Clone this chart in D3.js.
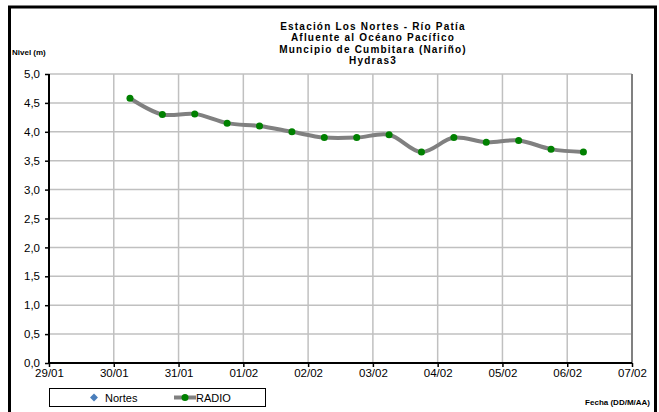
<!DOCTYPE html>
<meta charset="utf-8">
<style>
    body { margin: 0; background: #fff; }
    text { font-family: "Liberation Sans", Arial, sans-serif; fill: #000; }
    .title { font-size: 10px; font-weight: bold; letter-spacing: 1.2px; }
    .tick text { font-size: 11.5px; }
</style>
<body>
<script src="https://d3js.org/d3.v7.min.js"></script>
<script>

    // fechas de lectura (cada 12 horas) y nivel en metros
    var fechas = ["2021-01-30 06:00", "2021-01-30 18:00", "2021-01-31 06:00", "2021-01-31 18:00",
                  "2021-02-01 06:00", "2021-02-01 18:00", "2021-02-02 06:00", "2021-02-02 18:00",
                  "2021-02-03 06:00", "2021-02-03 18:00", "2021-02-04 06:00", "2021-02-04 18:00",
                  "2021-02-05 06:00", "2021-02-05 18:00", "2021-02-06 06:00"];
    var radio = [4.58, 4.30, 4.31, 4.15, 4.10, 4.00, 3.90, 3.90, 3.95, 3.65, 3.90, 3.82, 3.85, 3.70, 3.65];
    var nortes = [];   // serie sin datos, solo aparece en la leyenda

    var titulo = ["Estación Los Nortes  - Río Patía", "Afluente al Océano Pacífico",
                  "Muncipio de Cumbitara (Nariño)", "Hydras3"];
    var rangoFechas = ["2021-01-29 00:00", "2021-02-07 00:00"];
    var rangoNivel = [0, 5];

    var width = 659, height = 412;
    var plot = {left: 49, right: 632, top: 74, bottom: 363};

    var parse = d3.timeParse("%Y-%m-%d %H:%M");
    var locale = d3.formatLocale({decimal: ",", thousands: ".", grouping: [3], currency: ["$", ""]});

    var data = fechas.map(function(f, i) { return {fecha: parse(f), nivel: radio[i]}; });

    var x = d3.scaleTime()
        .domain(rangoFechas.map(parse))
        .range([plot.left, plot.right]);

    var y = d3.scaleLinear()
        .domain(rangoNivel)
        .range([plot.bottom, plot.top]);

    var svg = d3.select("body").append("svg")
        .attr("width", width)
        .attr("height", height);

    svg.append("rect")
        .attr("width", width).attr("height", height)
        .attr("fill", "#fff");

    // marco exterior
    svg.append("rect")
        .attr("x", 9.5).attr("y", 7)
        .attr("width", 646).attr("height", 420)
        .attr("fill", "none")
        .attr("stroke", "#000")
        .attr("stroke-width", 3);

    // grilla
    var yTicks = d3.range(0, 5.01, 0.5);
    var xTicks = x.ticks(d3.timeDay.every(1));

    svg.append("g").selectAll("line")
        .data(yTicks.filter(function(d) { return d > 0; }))
        .enter().append("line")
        .attr("x1", plot.left).attr("x2", plot.right)
        .attr("y1", function(d) { return y(d); })
        .attr("y2", function(d) { return y(d); })
        .attr("stroke", "#c0c0c0")
        .attr("stroke-width", 1.5);

    svg.append("g").selectAll("line")
        .data(xTicks.slice(1))
        .enter().append("line")
        .attr("x1", function(d) { return x(d); })
        .attr("x2", function(d) { return x(d); })
        .attr("y1", plot.top).attr("y2", plot.bottom)
        .attr("stroke", "#c0c0c0")
        .attr("stroke-width", 1.5);

    svg.append("line")
        .attr("x1", plot.right).attr("x2", plot.right)
        .attr("y1", plot.top).attr("y2", plot.bottom)
        .attr("stroke", "#808080")
        .attr("stroke-width", 2);

    // ejes
    var yAxis = svg.append("g")
        .attr("transform", "translate(" + plot.left + ",0)")
        .call(d3.axisLeft(y).tickValues(yTicks).tickFormat(locale.format(".1f")).tickSize(4).tickPadding(5));

    var xAxis = svg.append("g")
        .attr("transform", "translate(0," + plot.bottom + ")")
        .call(d3.axisBottom(x).tickValues(xTicks).tickFormat(d3.timeFormat("%d/%m")).tickSize(4).tickPadding(1.5));

    [yAxis, xAxis].forEach(function(a) {
        a.select(".domain").attr("stroke", "#000").attr("stroke-width", 2);
        a.selectAll(".tick line").attr("stroke", "#000").attr("stroke-width", 1.5);
        a.selectAll(".tick text").attr("fill", "#000");
    });
    yAxis.select(".domain").attr("d", "M0," + plot.bottom + "V" + plot.top);
    xAxis.select(".domain").attr("d", "M" + plot.left + ",0H" + plot.right);

    // serie RADIO
    var line = d3.line()
        .x(function(d) { return x(d.fecha); })
        .y(function(d) { return y(d.nivel); })
        .curve(d3.curveCatmullRom.alpha(0.5));

    svg.append("path")
        .datum(data)
        .attr("d", line)
        .attr("fill", "none")
        .attr("stroke", "#808080")
        .attr("stroke-width", 4);

    svg.append("g").selectAll("circle")
        .data(data)
        .enter().append("circle")
        .attr("cx", function(d) { return x(d.fecha); })
        .attr("cy", function(d) { return y(d.nivel); })
        .attr("r", 3.5)
        .attr("fill", "#008000");

    // títulos
    svg.append("g").selectAll("text")
        .data(titulo)
        .enter().append("text")
        .attr("class", "title")
        .attr("x", 373)
        .attr("y", function(d, i) { return 29.5 + i * 11.5; })
        .attr("text-anchor", "middle")
        .text(function(d) { return d; });

    svg.append("text")
        .attr("x", 12).attr("y", 55)
        .style("font-size", "8px").style("font-weight", "bold")
        .text("Nivel (m)");

    svg.append("text")
        .attr("x", 650).attr("y", 405)
        .attr("text-anchor", "end")
        .style("font-size", "8px").style("font-weight", "bold")
        .text("Fecha (DD/M/AA)");

    // leyenda
    var legend = svg.append("g");
    legend.append("rect")
        .attr("x", 49.5).attr("y", 388.5)
        .attr("width", 216).attr("height", 18)
        .attr("fill", "#fff")
        .attr("stroke", "#000");

    legend.append("path")
        .attr("d", d3.symbol().type(d3.symbolDiamond2).size(40))
        .attr("transform", "translate(94,397.5)")
        .attr("fill", "#4a7ebb");
    legend.append("text")
        .attr("x", 105).attr("y", 401.5)
        .style("font-size", "11px")
        .text("Nortes");

    legend.append("line")
        .attr("x1", 174).attr("x2", 196)
        .attr("y1", 397.5).attr("y2", 397.5)
        .attr("stroke", "#808080").attr("stroke-width", 4);
    legend.append("circle")
        .attr("cx", 185).attr("cy", 397.5).attr("r", 3.5)
        .attr("fill", "#008000");
    legend.append("text")
        .attr("x", 196).attr("y", 401.5)
        .style("font-size", "11px")
        .text("RADIO");

</script>
</body>
